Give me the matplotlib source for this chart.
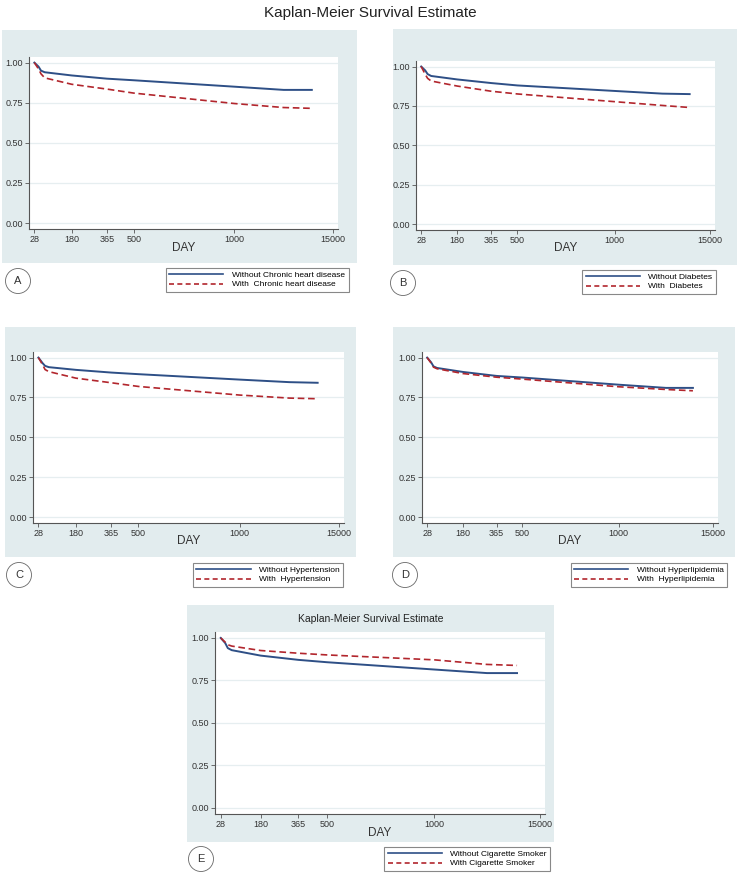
import numpy as np
import matplotlib
matplotlib.use("Agg")
import matplotlib.pyplot as plt
from matplotlib.lines import Line2D
from matplotlib.patches import Rectangle, Ellipse

plt.rcParams["font.family"] = ["Liberation Sans", "DejaVu Sans"]

W, H = 740, 876

# x axis of the original is piecewise: ticks evenly placed by hand
TICK_DAYS = [28, 180, 365, 500, 1000, 15000]
TICK_LABELS = ["28", "180", "365", "500", "1000", "15000"]
TICK_POS = [0.0, 0.125, 0.243, 0.333, 0.67, 1.0]
Y_TICKS = [0.0, 0.25, 0.5, 0.75, 1.0]
Y_LABELS = ["0.00", "0.25", "0.50", "0.75", "1.00"]

DAYS = [28, 45, 55, 70, 180, 365, 500, 1000, 8000, 12000]

# panel A: chronic heart disease
a_without = [1.0, 0.975, 0.95, 0.94, 0.92, 0.90, 0.89, 0.85, 0.83, 0.83]
a_with = [1.0, 0.96, 0.93, 0.905, 0.865, 0.835, 0.81, 0.745, 0.72, 0.715]
# panel B: diabetes
b_without = [1.0, 0.975, 0.952, 0.94, 0.918, 0.895, 0.88, 0.845, 0.828, 0.825]
b_with = [1.0, 0.95, 0.925, 0.908, 0.876, 0.843, 0.826, 0.777, 0.753, 0.74]
# panel C: hypertension
c_without = [1.0, 0.965, 0.948, 0.94, 0.923, 0.906, 0.896, 0.862, 0.846, 0.842]
c_with = [1.0, 0.955, 0.925, 0.912, 0.871, 0.842, 0.819, 0.765, 0.746, 0.742]
# panel D: hyperlipidemia
d_without = [1.0, 0.97, 0.945, 0.935, 0.91, 0.885, 0.875, 0.83, 0.81, 0.81]
d_with = [1.0, 0.965, 0.94, 0.93, 0.90, 0.877, 0.865, 0.817, 0.80, 0.792]
# panel E: cigarette smoker
e_without = [1.0, 0.97, 0.94, 0.928, 0.896, 0.871, 0.857, 0.814, 0.793, 0.793]
e_with = [1.0, 0.975, 0.96, 0.952, 0.926, 0.91, 0.90, 0.871, 0.844, 0.838]

BLUE = "#2e4f86"
RED = "#b2262d"
BG = "#e2ecee"
GRID = "#e6eef0"


def _pw(x, xp, fp):
    x = np.asarray(x, dtype=float)
    flat = np.atleast_1d(x).astype(float)
    y = np.interp(flat, xp, fp)
    lo = flat < xp[0]
    hi = flat > xp[-1]
    y[lo] = fp[0] + (flat[lo] - xp[0]) * (fp[1] - fp[0]) / (xp[1] - xp[0])
    y[hi] = fp[-1] + (flat[hi] - xp[-1]) * (fp[-1] - fp[-2]) / (xp[-1] - xp[-2])
    return y.reshape(x.shape)


def fwd(d):
    return _pw(d, TICK_DAYS, TICK_POS)


def inv(p):
    return _pw(p, TICK_POS, TICK_DAYS)


def frac(x0, y0, x1, y1):
    return [x0 / W, 1 - y1 / H, (x1 - x0) / W, (y1 - y0) / H]


fig = plt.figure(figsize=(W / 100, H / 100), dpi=100)
fig.text(370 / W, 1 - 13 / H, "Kaplan-Meier Survival Estimate",
         ha="center", va="center", fontsize=11, color="#222222")

panels = [
    # letter, without, with, labels, bg box, axes box, legend centre, circle, DAY y, title
    ("A", a_without, a_with, ("Without Chronic heart disease", "With  Chronic heart disease"),
     (2, 30, 357, 263), (29, 57, 338, 229), (257, 280), (18, 281), 248, None),
    ("B", b_without, b_with, ("Without Diabetes", "With  Diabetes"),
     (393, 29, 737, 265), (416, 61, 715, 230), (649, 282), (403, 283), 248, None),
    ("C", c_without, c_with, ("Without Hypertension", "With  Hypertension"),
     (5, 327, 356, 557), (33, 352, 344, 523), (268, 575), (19, 575), 541, None),
    ("D", d_without, d_with, ("Without Hyperlipidemia", "With  Hyperlipidemia"),
     (393, 327, 735, 557), (422, 352, 718, 523), (649, 575), (405, 575), 541, None),
    ("E", e_without, e_with, ("Without Cigarette Smoker", "With Cigarette Smoker"),
     (187, 605, 554, 842), (215, 632, 545, 814), (467, 859), (201, 859), 833,
     "Kaplan-Meier Survival Estimate"),
]

for letter, s_without, s_with, labels, bg, box, leg_c, circ, day_y, title in panels:
    fig.add_artist(Rectangle((bg[0] / W, 1 - bg[3] / H), (bg[2] - bg[0]) / W,
                             (bg[3] - bg[1]) / H, transform=fig.transFigure,
                             facecolor=BG, edgecolor="none", zorder=0))
    ax = fig.add_axes(frac(*box))
    ax.set_facecolor("white")
    ax.set_xscale("function", functions=(fwd, inv))
    ax.set_xlim(float(inv(-0.018)), float(inv(1.017)))
    ax.set_ylim(-0.037, 1.035)
    for yv in Y_TICKS:
        ax.axhline(yv, color=GRID, lw=0.9, zorder=1)
    ax.plot(DAYS, s_without, color=BLUE, lw=1.4, zorder=3)
    ax.plot(DAYS, s_with, color=RED, lw=1.2, dashes=(4, 2.2), zorder=3)
    ax.set_xticks(TICK_DAYS)
    ax.set_xticklabels(TICK_LABELS)
    ax.minorticks_off()
    ax.set_yticks(Y_TICKS)
    ax.set_yticklabels(Y_LABELS)
    ax.tick_params(labelsize=6.5, length=3, width=0.6, color="#555555",
                   labelcolor="#333333", pad=1.5)
    for side in ("top", "right"):
        ax.spines[side].set_visible(False)
    for side in ("left", "bottom"):
        ax.spines[side].set_color("#555555")
        ax.spines[side].set_linewidth(0.8)
    cx = (box[0] + box[2]) / 2
    fig.text(cx / W, 1 - day_y / H, "DAY", ha="center", va="center",
             fontsize=8.5, color="#333333")
    if title:
        fig.text((bg[0] + bg[2]) / 2 / W, 1 - 619 / H, title, ha="center",
                 va="center", fontsize=7.5, color="#222222")

    handles = [Line2D([], [], color=BLUE, lw=1.2),
               Line2D([], [], color=RED, lw=1.2, dashes=(3, 2))]
    lg = fig.legend(handles, labels, loc="center",
                    bbox_to_anchor=(leg_c[0] / W, 1 - leg_c[1] / H),
                    fontsize=6, handlelength=6.5, handletextpad=1.0,
                    labelspacing=0.15, borderpad=0.45, frameon=True,
                    fancybox=False, edgecolor="#888888", framealpha=1)
    lg.get_frame().set_linewidth(0.8)

    fig.add_artist(Ellipse((circ[0] / W, 1 - circ[1] / H), 25 / W, 25 / H,
                           transform=fig.transFigure, facecolor="white",
                           edgecolor="#666666", lw=0.6))
    fig.text(circ[0] / W, 1 - circ[1] / H, letter, ha="center", va="center",
             fontsize=8, color="#333333")

fig.savefig("out.png", dpi=100)
